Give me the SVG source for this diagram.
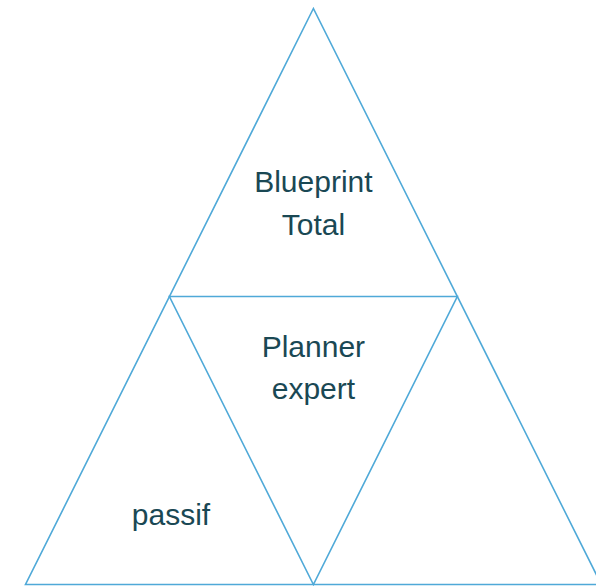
<svg xmlns="http://www.w3.org/2000/svg" width="596" height="586" viewBox="0 0 596 586">
<style>
.edge{fill:none;stroke:#4fa9d8;stroke-width:1.6;stroke-linejoin:miter}
.lbl{font-family:"Liberation Sans",Arial,sans-serif;font-size:30px;fill:#1a4854;text-anchor:middle}
</style>
<rect width="596" height="586" fill="#ffffff"/>
<g id="connectors">
<path class="edge" d="M313.4,8.5 L25.5,584.5 L601.3,584.5 Z"/>
<path class="edge" d="M169.4,296.5 L457.3,296.5 L313.4,584.5 Z"/>
</g>
<g id="node-top">
<text class="lbl" x="313.4" y="192">Blueprint</text>
<text class="lbl" x="313.4" y="235">Total</text>
</g>
<g id="node-middle">
<text class="lbl" x="313.4" y="357">Planner</text>
<text class="lbl" x="313.4" y="399">expert</text>
</g>
<g id="node-left">
<text class="lbl" x="171" y="525">passif</text>
</g>
<g id="node-right"/>
</svg>
